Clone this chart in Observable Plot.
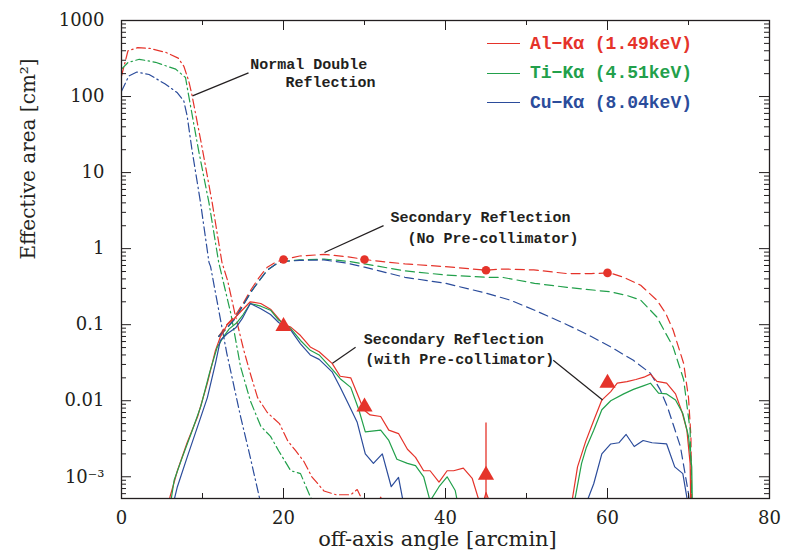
<!DOCTYPE html>
<html><head><meta charset="utf-8">
<script src="https://cdn.jsdelivr.net/npm/d3@7"></script>
<script src="https://cdn.jsdelivr.net/npm/@observablehq/plot@0.6"></script>
<style>
body{margin:0;background:#fff;}
#wrap{position:relative;width:787px;height:560px;}
#legend{position:absolute;left:487px;top:29px;font-family:"Liberation Mono",monospace;font-size:18px;font-weight:bold;}
.row{display:flex;align-items:center;height:29.5px;white-space:pre;}
.sw{width:33px;height:0;border-top:1.3px solid;margin-right:10px;}
</style></head><body><div id="wrap"></div>
<script>
// ---- series labels & colours
const seriesNames = ["Al", "Ti", "Cu"];
const legendLabels = ["Al−Kα (1.49keV)", "Ti−Kα (4.51keV)", "Cu−Kα (8.04keV)"];
const seriesColors = ["#e5332a", "#22a04b", "#2b4c9b"];

// ---- Normal double reflection (dash-dot)  [angle, area]
const normalAl = [[0,186],[0.8,400],[2,440],[3.5,430],[5.5,380],[7,320],[7.7,250],[8.3,160],[8.7,105],[10,20],[11.2,4],[12.4,0.66],[13.1,0.38],[14,0.14],[15.1,0.046],[16,0.021],[16.8,0.011],[18,0.007],[19.5,0.005],[20.5,0.003],[21.5,0.0022],[22.5,0.0016],[23.5,0.001],[25,0.00065],[26.5,0.00058],[28.3,0.00058],[29.1,0.00068],[29.7,0.0005],[30.5,0.0004],[31.5,0.0004],[32,0.00054],[32.5,0.0004]];
const normalTi = [[0,229],[0.8,280],[2.2,309],[4.2,282],[6.7,229],[7.9,178],[8.3,102],[9.5,20],[10.8,4],[12,0.66],[13.5,0.14],[14.7,0.028],[15.9,0.01],[17.2,0.0046],[18.4,0.0034],[19.4,0.0022],[20.9,0.0012],[22.1,0.0011],[23.3,0.00055],[24,0.0004]];
const normalCu = [[0,117],[0.9,186],[1.9,210],[3.4,195],[5.4,146],[6.9,112],[7.7,87],[8.1,56],[8.7,20],[9.75,4.07],[10.8,0.66],[11,0.58],[13,0.042],[14.7,0.0062],[15.9,0.0018],[17,0.00055],[17.3,0.0004]];

// ---- Secondary reflection, no pre-collimator (dashed)
const noPreAl = [[12,0.07],[13,0.1],[14,0.13],[15,0.19],[16,0.29],[17,0.42],[18,0.57],[19,0.66],[20,0.72],[22,0.8],[25,0.84],[28,0.78],[30,0.72],[32,0.68],[35,0.63],[40,0.58],[45,0.52],[47,0.54],[50.9,0.525],[55,0.47],[58,0.47],[60.3,0.48],[62,0.42],[64.1,0.33],[66.1,0.21],[67.2,0.14],[68.1,0.085],[69.4,0.031],[70,0.011],[70.3,0.0034],[70.4,0.0004]];
const noPreTi = [[12,0.07],[13,0.09],[14,0.12],[15,0.18],[16,0.27],[17,0.38],[18,0.52],[19,0.62],[20,0.68],[22,0.71],[25,0.73],[28,0.68],[30,0.63],[35,0.51],[40,0.45],[45,0.42],[47,0.42],[51,0.35],[55,0.31],[60.4,0.27],[62.5,0.24],[64.1,0.21],[66.1,0.126],[68.1,0.051],[69.4,0.019],[70.2,0.0041],[70.4,0.0004]];
const noPreCu = [[12,0.07],[13,0.09],[14,0.12],[15,0.18],[16,0.27],[17,0.38],[18,0.52],[19,0.62],[20,0.68],[22,0.7],[25,0.71],[28,0.64],[30,0.57],[35,0.42],[40,0.35],[45,0.26],[48,0.21],[51,0.155],[55,0.1],[58,0.07],[60.4,0.051],[63.2,0.034],[65.3,0.023],[66.5,0.014],[67.4,0.0083],[69,0.0025],[70,0.0006],[70.2,0.0004]];

// ---- Secondary reflection, with pre-collimator (solid)
const withPreAl = [[5.5,0.0003],[6,0.00055],[6.9,0.0012],[8.1,0.0028],[9.4,0.0062],[10.6,0.017],[11.6,0.046],[12.2,0.069],[13.05,0.1],[13.9,0.12],[14.7,0.148],[15.9,0.2],[17.2,0.19],[18.4,0.16],[19.4,0.12],[20,0.1],[20.9,0.093],[22.1,0.072],[23.3,0.051],[24.4,0.044],[26,0.031],[27,0.021],[28.3,0.02],[29.3,0.011],[29.9,0.0076],[30.7,0.0065],[32,0.0062],[33,0.0041],[34.2,0.0037],[35.3,0.0023],[36.3,0.0018],[37.3,0.0012],[38.1,0.0012],[39.2,0.00085],[40.2,0.0012],[41,0.0012],[42.2,0.0013],[43.3,0.00095],[44.1,0.0005],[44.5,0.0004],[45,0.00062],[45.7,0.0004],[50,0.0002],[55.5,0.0004],[56.3,0.00135],[57.3,0.0029],[58.3,0.0055],[59.3,0.0102],[60.4,0.0132],[61.2,0.017],[62.4,0.0178],[63.5,0.019],[64.5,0.0204],[65.3,0.0224],[66.1,0.018],[67.3,0.017],[68.4,0.0123],[69.2,0.0071],[69.8,0.0041],[70.2,0.0015],[70.3,0.0003]];
const withPreTi = [[5.8,0.0003],[6.5,0.0009],[7.5,0.0018],[8.6,0.0037],[9.8,0.0085],[10.9,0.024],[11.8,0.05],[12.5,0.067],[13.3,0.088],[14.2,0.105],[15,0.135],[15.9,0.19],[17.2,0.175],[18.4,0.155],[19.4,0.115],[20.9,0.089],[22.1,0.062],[23.3,0.046],[24.4,0.04],[26,0.026],[27,0.0195],[28.3,0.015],[29.3,0.0076],[30.1,0.0039],[32,0.0041],[33,0.003],[34,0.0017],[35.3,0.0015],[36.3,0.0014],[37.3,0.001],[38.1,0.00048],[39.2,0.00074],[40.2,0.001],[41.2,0.00066],[41.6,0.0004],[48,0.0002],[55.8,0.0004],[56.8,0.0015],[57.4,0.00245],[58.3,0.0041],[59.3,0.0076],[60.4,0.01],[62,0.0123],[63.2,0.0141],[64.5,0.0158],[65.3,0.017],[66.3,0.0126],[67.3,0.0123],[68.4,0.0102],[69.3,0.0068],[70,0.0034],[70.4,0.00135],[70.5,0.0003]];
const withPreCu = [[6,0.0003],[6.9,0.00074],[8.1,0.0018],[9.4,0.0046],[10.6,0.011],[11.6,0.031],[12.2,0.062],[13.05,0.076],[14.1,0.091],[14.9,0.12],[15.9,0.19],[17.2,0.162],[18.4,0.136],[19.4,0.107],[20.9,0.085],[22.1,0.056],[23.3,0.04],[24.4,0.035],[26,0.024],[27,0.015],[28,0.0091],[29.1,0.0052],[30.1,0.002],[31.1,0.0015],[32.2,0.002],[33.3,0.00074],[34.2,0.00098],[34.9,0.0004],[45,0.0002],[57.2,0.0004],[58.3,0.00081],[59.3,0.002],[60.4,0.0027],[61.4,0.0028],[62.3,0.0036],[63.3,0.0025],[64.4,0.003],[65.5,0.0028],[67.3,0.0027],[68.3,0.00135],[69.3,0.0011],[70.2,0.0003]];

// ---- Measured points (Al-Kα)
const measuredAngles = [20, 30, 45, 60];
const measuredNoPre = [0.72, 0.72, 0.52, 0.48];
const measuredWithPre = [0.095, 0.0083, 0.00105, 0.017];
const errorBars = [{x: 45, hi: 0.0051, lo: 0.0001}];

// ---- Annotations (data coordinates)
const annotations = [
  {x: 15.9, y: 265, text: "Normal Double"},
  {x: 20.25, y: 156, text: "Reflection"},
  {x: 33.2, y: 2.56, text: "Secondary Reflection"},
  {x: 35.3, y: 1.38, text: "(No Pre-collimator)"},
  {x: 29.9, y: 0.0652, text: "Secondary Reflection"},
  {x: 30.1, y: 0.0356, text: "(with Pre-collimator)"}
];
const leaders = [
  {x1: 8.77, y1: 102, x2: 15.68, y2: 205},
  {x1: 25.06, y1: 0.889, x2: 32.35, y2: 2.01},
  {x1: 26.05, y1: 0.031, x2: 28.9, y2: 0.0504},
  {x1: 53.3, y1: 0.034, x2: 59.4, y2: 0.0102}
];

// ---- ticks
const xMajorTicks = [0, 20, 40, 60, 80];
const xMinorTicks = [10, 30, 50, 70];
const yMajorTicks = [0.001, 0.01, 0.1, 1, 10, 100, 1000];
const yTickLabels = ["10⁻³", "0.01", "0.1", "1", "10", "100", "1000"];

// ---- build table
const groups = [
  ["normal", [normalAl, normalTi, normalCu]],
  ["noPre", [noPreAl, noPreTi, noPreCu]],
  ["withPre", [withPreAl, withPreTi, withPreCu]]
];
const rows = [];
for (const [kind, arrs] of groups) arrs.forEach((arr, i) => arr.forEach(([x, y]) => rows.push({kind, series: seriesNames[i], key: kind + seriesNames[i], x, y})));
const colorOf = Object.fromEntries(seriesNames.map((s, i) => [s, seriesColors[i]]));
const dotsNoPre = measuredAngles.map((x, i) => ({x, y: measuredNoPre[i]}));
const dotsWithPre = measuredAngles.map((x, i) => ({x, y: measuredWithPre[i]}));

const yMinor = [];
for (let k = -4; k <= 2; k++) for (let m = 2; m <= 9; m++) { const v = m * Math.pow(10, k); if (v > 5.18e-4 && v < 1000) yMinor.push(v); }

const W = 787, H = 560, mL = 121, mR = 18, mT = 20, mB = 62;
const iW = W - mL - mR, iH = H - mT - mB;
const ink = "#231f20";
const lineMark = (kind, dash) => Plot.line(rows.filter(d => d.kind === kind), {
  x: "x", y: "y", z: "key", stroke: d => colorOf[d.series], strokeWidth: 1.2, strokeDasharray: dash, clip: true
});

const chart = Plot.plot({
  width: W, height: H, marginLeft: mL, marginRight: mR, marginTop: mT, marginBottom: mB,
  x: {domain: [0, 80]},
  y: {type: "log", domain: [5.18e-4, 1000]},
  style: {fontFamily: "DejaVu Serif", fontSize: "18px", color: ink, background: "#fff"},
  marks: [
    lineMark("normal", "9,3.5,1.5,3.5"),
    lineMark("noPre", "9,5"),
    lineMark("withPre", null),
    Plot.ruleX(errorBars, {x: "x", y1: "hi", y2: "lo", stroke: seriesColors[0], strokeWidth: 1.3, clip: true}),
    Plot.dot(dotsNoPre, {x: "x", y: "y", r: 4.3, fill: seriesColors[0]}),
    Plot.dot(dotsWithPre, {x: "x", y: "y", r: 6, symbol: "triangle", fill: seriesColors[0]}),
    Plot.link(leaders, {x1: "x1", y1: "y1", x2: "x2", y2: "y2", stroke: ink, strokeWidth: 1.2}),
    Plot.text(annotations, {x: "x", y: "y", text: "text", textAnchor: "start", fontFamily: "Liberation Mono", fontWeight: "bold", fontSize: 15, fill: ink}),
    // ticks (inward, mirrored)
    Plot.tickX(xMajorTicks, {x: d => d, insetTop: iH - 10, stroke: ink}),
    Plot.tickX(xMajorTicks, {x: d => d, insetBottom: iH - 10, stroke: ink}),
    Plot.tickX(xMinorTicks, {x: d => d, insetTop: iH - 5, stroke: ink}),
    Plot.tickX(xMinorTicks, {x: d => d, insetBottom: iH - 5, stroke: ink}),
    Plot.tickY(yMajorTicks, {y: d => d, insetRight: iW - 10, stroke: ink}),
    Plot.tickY(yMajorTicks, {y: d => d, insetLeft: iW - 10, stroke: ink}),
    Plot.tickY(yMinor, {y: d => d, insetRight: iW - 5, stroke: ink}),
    Plot.tickY(yMinor, {y: d => d, insetLeft: iW - 5, stroke: ink}),
    Plot.frame({stroke: ink, strokeWidth: 1.3}),
    Plot.axisX(xMajorTicks, {tickSize: 0, tickPadding: 13, label: null, fontSize: 18}),
    Plot.axisY(yMajorTicks, {tickSize: 0, tickPadding: 17, label: null, fontSize: 18, tickFormat: (d) => yTickLabels[yMajorTicks.indexOf(d)]}),
    Plot.text(["off-axis angle [arcmin]"], {frameAnchor: "bottom", dy: 47, dx: -8, fontSize: 21, fill: ink}),
    Plot.text(["Effective area [cm²]"], {frameAnchor: "left", dx: -93, rotate: -90, fontSize: 20, fill: ink})
  ]
});
const wrap = document.getElementById("wrap");
wrap.appendChild(chart);
const legend = document.createElement("div");
legend.id = "legend";
legendLabels.forEach((lab, i) => {
  const r = document.createElement("div"); r.className = "row"; r.style.color = seriesColors[i];
  const sw = document.createElement("span"); sw.className = "sw"; sw.style.borderTopColor = seriesColors[i];
  const t = document.createElement("span"); t.textContent = lab;
  r.appendChild(sw); r.appendChild(t); legend.appendChild(r);
});
wrap.appendChild(legend);
</script></body></html>
